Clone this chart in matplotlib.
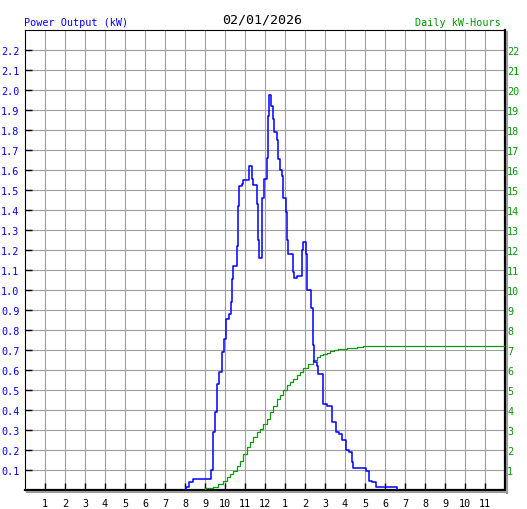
import numpy as np
import matplotlib.pyplot as plt
import matplotlib.transforms as mtransforms
from matplotlib.lines import Line2D

date_label = "02/01/2026"
left_title = "Power Output (kW)"
right_title = "Daily kW-Hours"
hour_labels = [str(h) for h in range(1, 12)] + ["12"] + [str(h) for h in range(1, 12)]

# power output (kW), step values starting at each hour mark
power_hours = [7.95, 8.05, 8.2, 8.4, 9.3, 9.38, 9.48, 9.58, 9.72, 9.83, 9.93, 10.03,
               10.22, 10.28, 10.37, 10.42, 10.58, 10.63, 10.68, 10.83, 10.92, 11.08,
               11.18, 11.33, 11.42, 11.58, 11.67, 11.68, 11.83, 11.95, 12.08, 12.13,
               12.18, 12.32, 12.38, 12.45, 12.58, 12.67, 12.75, 12.83, 12.92, 13.03,
               13.1, 13.17, 13.38, 13.45, 13.62, 13.83, 13.85, 13.92, 14.07, 14.12,
               14.32, 14.4, 14.45, 14.58, 14.65, 14.88, 15.08, 15.33, 15.53, 15.7,
               15.87, 16.05, 16.2, 16.33, 16.42, 17.03, 17.2, 17.37, 17.53, 18.6]
power_kw = [0.0, 0.017, 0.04, 0.055, 0.10, 0.29, 0.39, 0.53, 0.59, 0.69, 0.755, 0.855,
            0.88, 0.94, 1.055, 1.12, 1.22, 1.42, 1.52, 1.53, 1.55, 1.55,
            1.62, 1.555, 1.525, 1.43, 1.25, 1.16, 1.46, 1.555, 1.66, 1.87,
            1.975, 1.92, 1.855, 1.79, 1.75, 1.655, 1.60, 1.57, 1.46, 1.39,
            1.25, 1.18, 1.09, 1.06, 1.07, 1.11, 1.20, 1.24, 1.18, 1.0,
            0.91, 0.725, 0.64, 0.62, 0.58, 0.43, 0.42, 0.34, 0.29, 0.28,
            0.25, 0.20, 0.19, 0.14, 0.11, 0.097, 0.047, 0.038, 0.013, 0.0]

# cumulative energy (kWh)
energy_hours = [8.0, 9.0, 9.42, 9.67, 9.92, 10.08, 10.25, 10.42, 10.58, 10.75, 10.92,
                11.08, 11.25, 11.42, 11.58, 11.75, 11.92, 12.08, 12.25, 12.42, 12.58,
                12.75, 12.92, 13.08, 13.25, 13.42, 13.58, 13.75, 13.92, 14.17, 14.42,
                14.58, 14.75, 14.92, 15.08, 15.25, 15.45, 15.67, 15.87, 16.08, 16.33,
                16.58, 16.92, 24.0]
energy_kwh = [0.0, 0.08, 0.17, 0.30, 0.47, 0.63, 0.80, 0.97, 1.22, 1.47, 1.80,
              2.13, 2.38, 2.63, 2.88, 3.05, 3.30, 3.55, 3.88, 4.22, 4.55,
              4.72, 4.97, 5.22, 5.38, 5.55, 5.72, 5.90, 6.08, 6.30, 6.47,
              6.63, 6.72, 6.80, 6.86, 6.92, 6.97, 7.02, 7.05, 7.08, 7.11,
              7.13, 7.18, 7.18]

BLUE = '#0000ff'
GREEN = '#009900'
MONO = 'DejaVu Sans Mono'

W, H = 527, 510
fig = plt.figure(figsize=(W / 100, H / 100), dpi=100)
x0, x1, y0, y1 = 25, 505, 30.5, 491
ax = fig.add_axes([x0 / W, 1 - y1 / H, (x1 - x0) / W, (y1 - y0) / H])

ax.set_xlim(0, 24)
ax.set_ylim(0, 2.3)
ax.set_xticks(range(1, 24))
ax.set_xticklabels(hour_labels, family=MONO, fontsize=7.3)
yt = np.round(np.arange(1, 23) * 0.1, 1)
ax.set_yticks(yt)
ax.set_yticklabels([f"{v:.1f}" for v in yt], family=MONO, fontsize=7.3, color=BLUE)
ax.tick_params(axis='both', direction='in', length=5, width=1, color='black')
ax.tick_params(axis='y', pad=4)
ax.tick_params(axis='x', pad=6)
ax.grid(True, color='#a0a0a0', linewidth=0.8)
ax.set_axisbelow(True)

for side in ['left', 'top']:
    ax.spines[side].set_linewidth(0.8)
for side in ['right', 'bottom']:
    ax.spines[side].set_linewidth(1.6)

# green energy curve drawn in kWh on the power axes (kWh = 10 x kW scale)
kwh_trans = mtransforms.Affine2D().scale(1, 0.1) + ax.transData
ax.step(energy_hours, energy_kwh, where='post', color='#119911', linewidth=0.9,
        transform=kwh_trans, zorder=3)
ax.step(power_hours, power_kw, where='post', color=BLUE, linewidth=1.1, zorder=4)

sec = ax.secondary_yaxis('right', functions=(lambda y: y * 10, lambda y: y / 10))
sec.set_yticks(range(1, 23))
sec.set_yticklabels([str(v) for v in range(1, 23)], family=MONO, fontsize=7.3, color=GREEN)
sec.tick_params(length=0, pad=1.5)
sec.spines['right'].set_visible(False)

# drop shadow on right and bottom edges
shade = '#9a9a9a'
fig.add_artist(Line2D([506.5 / W, 506.5 / W], [1 - 33 / H, 1 - 494 / H],
                      transform=fig.transFigure, color=shade, linewidth=1.5))
fig.add_artist(Line2D([27 / W, 507.3 / W], [1 - 493.2 / H, 1 - 493.2 / H],
                      transform=fig.transFigure, color=shade, linewidth=1.5))

fig.text(262 / W, 1 - 20 / H, date_label, ha='center', va='center',
         family=MONO, fontsize=9.6, color='black')
fig.text(24 / W, 1 - 23 / H, left_title, ha='left', va='center',
         family=MONO, fontsize=7.3, color=BLUE)
fig.text(501 / W, 1 - 23 / H, right_title, ha='right', va='center',
         family=MONO, fontsize=7.3, color=GREEN)

fig.savefig('out.png', dpi=100, facecolor='white')
